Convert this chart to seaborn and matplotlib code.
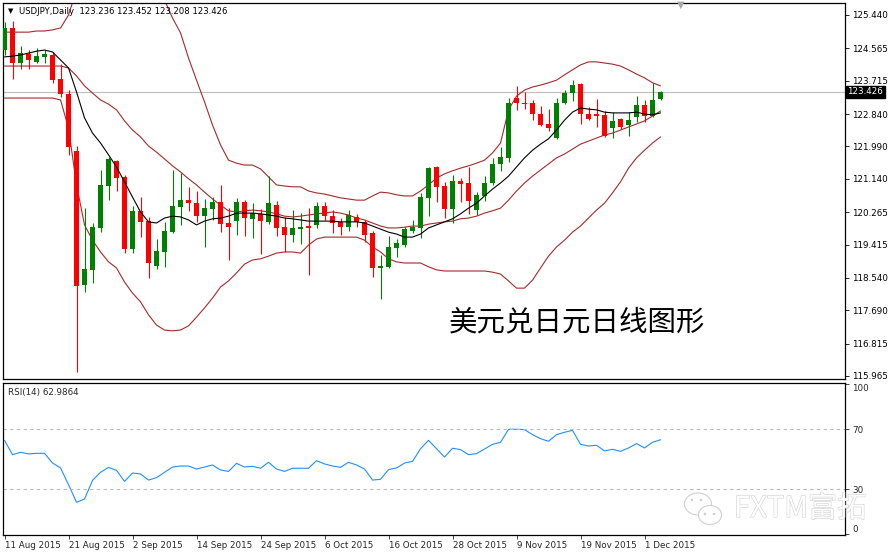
import numpy as np
import pandas as pd
import seaborn as sns
import matplotlib.pyplot as plt
import matplotlib.patheffects as pe
import matplotlib.transforms as mtransforms
from matplotlib.patches import Ellipse

# USDJPY daily bars, 11 Aug 2015 - 3 Dec 2015
dates = pd.bdate_range("2015-08-11", "2015-12-03")

opens = [124.52, 125.10, 124.18, 124.42, 124.21, 124.34, 124.39, 123.76, 123.37, 121.87,
         118.35, 118.75, 119.85, 120.95, 121.61, 121.19, 119.30, 120.30, 120.03, 118.85,
         119.22, 119.74, 120.40, 120.58, 120.50, 120.16, 120.35, 120.53, 119.98, 120.03,
         120.53, 120.08, 120.22, 120.01, 120.45, 119.87, 119.66, 119.82, 119.90, 119.93,
         120.43, 120.16, 120.01, 119.87, 120.14, 120.01, 119.72, 118.80, 118.83, 119.32,
         119.40, 119.77, 119.85, 120.64, 121.45, 120.95, 120.35, 121.08, 121.03, 120.32,
         120.69, 121.03, 121.53, 121.69, 123.26, 123.13, 123.13, 122.84, 122.58, 122.21,
         123.13, 123.39, 123.63, 122.84, 122.84, 122.82, 122.47, 122.71, 122.55, 122.76,
         123.08, 122.79, 123.236]
highs = [125.26, 125.28, 124.63, 124.52, 124.57, 124.52, 124.47, 124.15, 123.47, 122.00,
         120.37, 119.98, 121.37, 121.71, 121.63, 121.24, 120.43, 120.66, 120.14, 119.56,
         120.01, 121.37, 121.29, 120.93, 120.82, 120.61, 120.66, 120.98, 120.37, 120.64,
         120.58, 120.50, 120.35, 121.21, 120.56, 120.14, 120.32, 120.24, 120.37, 120.53,
         120.53, 120.32, 120.11, 120.32, 120.22, 120.06, 119.77, 119.14, 119.64, 119.56,
         119.87, 120.06, 120.77, 121.45, 121.48, 121.06, 121.24, 121.16, 121.45, 120.79,
         121.21, 121.69, 121.97, 123.26, 123.58, 123.42, 123.21, 123.05, 122.97, 123.26,
         123.47, 123.73, 123.66, 123.02, 123.24, 122.92, 122.89, 122.74, 122.89, 123.31,
         123.21, 123.66, 123.452]
lows = [124.39, 123.76, 124.02, 124.02, 124.18, 124.18, 123.66, 123.29, 121.77, 116.07,
        118.17, 118.41, 119.74, 120.58, 120.82, 119.19, 119.19, 119.61, 118.54, 118.77,
        118.83, 119.72, 119.93, 120.30, 120.01, 119.35, 120.06, 119.74, 119.01, 119.66,
        119.64, 119.59, 119.17, 119.95, 119.64, 119.22, 119.48, 119.43, 118.62, 119.85,
        120.06, 119.72, 119.66, 119.77, 119.87, 119.48, 118.56, 117.98, 118.80, 119.09,
        119.35, 119.72, 119.59, 120.16, 120.53, 120.11, 119.98, 120.53, 120.22, 120.19,
        120.56, 120.98, 121.35, 121.58, 122.95, 122.97, 122.68, 122.53, 122.40, 122.19,
        123.10, 123.18, 122.58, 122.68, 122.50, 122.24, 122.21, 122.45, 122.26, 122.63,
        122.63, 122.76, 123.208]
closes = [125.10, 124.18, 124.44, 124.26, 124.36, 124.42, 123.73, 123.37, 121.97, 118.33,
          118.77, 119.87, 120.98, 121.66, 121.16, 119.30, 120.30, 120.01, 118.93, 119.25,
          119.77, 120.43, 120.58, 120.50, 120.16, 120.37, 120.53, 119.95, 119.87, 120.53,
          120.11, 120.24, 120.03, 120.50, 119.85, 119.66, 119.85, 119.87, 119.85, 120.43,
          120.16, 119.98, 119.87, 120.19, 120.01, 119.66, 118.80, 118.85, 119.35, 119.46,
          119.82, 119.87, 120.66, 121.42, 120.93, 120.35, 121.08, 121.00, 120.56, 120.72,
          121.03, 121.53, 121.71, 123.13, 123.13, 123.10, 122.84, 122.55, 122.47, 123.13,
          123.39, 123.60, 122.84, 122.71, 122.79, 122.26, 122.66, 122.50, 122.68, 123.08,
          122.79, 123.21, 123.426]

# Bollinger bands (red) and fast moving average (black)
bb_upper = [124.99, 124.99, 124.99, 124.99, 125.02, 125.02, 125.05, 125.10, 125.44, 126.10,
            126.45, 126.75, 126.95, 127.05, 127.10, 127.10, 127.00, 126.85, 126.62, 126.30,
            125.83, 125.36, 124.97, 124.31, 123.73, 123.16, 122.55, 122.03, 121.63, 121.55,
            121.50, 121.50, 121.40, 121.19, 120.98, 120.95, 120.93, 120.93, 120.82, 120.77,
            120.74, 120.69, 120.64, 120.61, 120.58, 120.58, 120.69, 120.79, 120.77, 120.72,
            120.69, 120.69, 120.82, 120.98, 121.16, 121.27, 121.35, 121.42, 121.48, 121.55,
            121.63, 121.82, 122.08, 122.95, 123.31, 123.47, 123.55, 123.60, 123.66, 123.73,
            123.87, 124.00, 124.13, 124.21, 124.21, 124.18, 124.15, 124.10, 124.00, 123.89,
            123.79, 123.66, 123.58]
bb_mid = [124.10, 124.10, 124.10, 124.10, 124.10, 124.10, 124.10, 124.10, 124.05, 123.84,
          123.58, 123.39, 123.21, 123.10, 122.95, 122.66, 122.42, 122.24, 122.00, 121.84,
          121.66, 121.48, 121.32, 121.14, 120.98, 120.79, 120.61, 120.45, 120.30, 120.27,
          120.30, 120.32, 120.30, 120.27, 120.22, 120.16, 120.14, 120.16, 120.19, 120.22,
          120.24, 120.27, 120.24, 120.19, 120.11, 120.06, 119.98, 119.90, 119.85, 119.85,
          119.87, 119.90, 119.90, 119.95, 119.98, 120.01, 120.03, 120.09, 120.11, 120.16,
          120.24, 120.30, 120.37, 120.58, 120.82, 121.03, 121.21, 121.37, 121.53, 121.69,
          121.79, 121.92, 122.05, 122.13, 122.21, 122.29, 122.34, 122.42, 122.50, 122.58,
          122.66, 122.79, 122.92]
bb_lower = [123.26, 123.26, 123.26, 123.26, 123.26, 123.26, 123.26, 123.21, 122.47, 120.98,
            119.93, 119.53, 119.22, 118.96, 118.80, 118.43, 118.14, 117.91, 117.57, 117.30,
            117.17, 117.15, 117.17, 117.28, 117.51, 117.75, 118.01, 118.30, 118.46, 118.67,
            118.90, 119.01, 119.04, 119.11, 119.19, 119.22, 119.22, 119.19, 119.40, 119.56,
            119.61, 119.61, 119.61, 119.61, 119.61, 119.53, 119.35, 119.22, 119.04, 118.96,
            118.93, 118.93, 118.93, 118.83, 118.75, 118.72, 118.72, 118.72, 118.72, 118.72,
            118.72, 118.69, 118.64, 118.46, 118.27, 118.27, 118.48, 118.80, 119.11, 119.35,
            119.53, 119.74, 119.90, 120.11, 120.32, 120.50, 120.77, 121.06, 121.42, 121.69,
            121.89, 122.08, 122.24]
ma_fast = [124.34, 124.36, 124.39, 124.44, 124.49, 124.52, 124.47, 124.26, 124.05, 123.42,
           122.74, 122.34, 122.08, 121.77, 121.45, 121.06, 120.66, 120.27, 120.01, 119.98,
           120.11, 120.16, 120.14, 120.06, 119.93, 120.03, 120.09, 120.11, 120.16, 120.24,
           120.24, 120.24, 120.22, 120.19, 120.16, 120.11, 120.09, 120.06, 120.03, 120.03,
           120.03, 120.03, 120.01, 120.01, 120.01, 119.98, 119.90, 119.82, 119.74, 119.69,
           119.61, 119.61, 119.69, 119.85, 119.93, 120.01, 120.09, 120.22, 120.37, 120.50,
           120.69, 120.87, 121.03, 121.21, 121.45, 121.69, 121.89, 122.05, 122.19, 122.42,
           122.68, 122.89, 123.00, 122.97, 122.95, 122.89, 122.87, 122.87, 122.87, 122.89,
           122.84, 122.82, 122.87]

rsi = [62.6, 53.0, 54.6, 53.5, 53.9, 53.9, 47.4, 44.1, 32.9, 21.1,
       23.3, 35.8, 41.2, 44.5, 42.5, 35.1, 40.7, 40.1, 36.0, 37.6,
       41.2, 44.7, 45.4, 45.4, 43.4, 44.7, 46.1, 42.7, 41.8, 47.2,
       44.7, 45.2, 43.9, 47.9, 43.4, 41.8, 43.9, 43.9, 43.9, 49.0,
       46.8, 45.4, 44.5, 47.9, 46.1, 43.4, 36.0, 36.5, 43.0, 44.1,
       47.4, 48.5, 57.0, 62.6, 57.0, 51.4, 57.3, 56.4, 53.0, 53.7,
       56.8, 59.9, 61.3, 70.0, 70.0, 69.8, 66.4, 63.7, 62.0, 66.4,
       68.0, 69.3, 59.9, 58.8, 59.3, 55.5, 56.6, 55.2, 57.5, 60.4,
       57.5, 61.3, 62.99]

price_ticks = [125.440, 124.565, 123.715, 122.840, 121.990, 121.140,
               120.265, 119.415, 118.540, 117.690, 116.815, 115.965]
rsi_ticks = [0, 30, 70, 100]
last_price = 123.426

df = pd.DataFrame({"bar": np.arange(len(dates)), "open": opens, "high": highs,
                   "low": lows, "close": closes, "upper": bb_upper, "mid": bb_mid,
                   "lower": bb_lower, "ma": ma_fast, "rsi": rsi})

sns.set_theme(style="white")
plt.rcParams["font.family"] = ["DejaVu Sans"]

fig = plt.figure(figsize=(8.9, 5.54), dpi=100)
ax = fig.add_axes([3 / 890, 1 - 379 / 554, 842 / 890, 376 / 554])
ax_rsi = fig.add_axes([3 / 890, 1 - 535 / 554, 842 / 890, 152 / 554])

# candles
up = df["close"] >= df["open"]
colors = np.where(up, "#008000", "#ff0000")
ax.vlines(df["bar"], df["low"], df["high"], colors=colors, lw=0.8, zorder=3)
body = np.maximum((df["close"] - df["open"]).abs(), 0.02)
ax.bar(df["bar"], body, bottom=np.minimum(df["open"], df["close"]),
       width=0.62, color=colors, lw=0, zorder=4)

# bands and moving average
for col in ["upper", "mid", "lower"]:
    sns.lineplot(data=df, x="bar", y=col, ax=ax, color="#a52a2a", lw=0.8,
                 estimator=None, zorder=2)
sns.lineplot(data=df, x="bar", y="ma", ax=ax, color="black", lw=0.8,
             estimator=None, zorder=5)

ax.axhline(last_price, color="#c0c0c0", lw=0.9, zorder=1)

xlim = (-0.19, 105.06)
ax.set_xlim(*xlim)
ax.set_ylim(115.885, 125.755)
ax.set_xlabel("")
ax.set_ylabel("")
ax.set_xticks([])
ax.yaxis.tick_right()
ax.set_yticks(price_ticks)
ax.set_yticklabels([f"{t:.3f}" for t in price_ticks])
ax.tick_params(axis="y", direction="out", length=3, width=0.6, pad=2,
               labelsize=6.3, right=True, colors="black")

trans = mtransforms.blended_transform_factory(ax.transAxes, ax.transData)
ax.text(1.003, last_price, f"{last_price:.3f}", transform=trans, fontsize=6.3,
        color="white", va="center", ha="left", clip_on=False, zorder=10,
        bbox=dict(boxstyle="square,pad=0.15", fc="black", ec="black"))

# RSI panel
sns.lineplot(data=df, x="bar", y="rsi", ax=ax_rsi, color="#1e90ff", lw=0.8,
             estimator=None)
for lvl in [30, 70]:
    ax_rsi.axhline(lvl, color="#b8b8b8", lw=0.8, ls=(0, (3, 3)))
ax_rsi.set_xlim(*xlim)
ax_rsi.set_ylim(-0.8, 101)
ax_rsi.set_xlabel("")
ax_rsi.set_ylabel("")
ax_rsi.yaxis.tick_right()
ax_rsi.set_yticks(rsi_ticks)
ylabs = ax_rsi.set_yticklabels([str(t) for t in rsi_ticks])
ylabs[0].set_va("bottom")
ylabs[-1].set_va("top")
ax_rsi.tick_params(axis="y", direction="out", length=3, width=0.6, pad=2,
                   labelsize=6.3, right=True)

tick_bars = list(range(0, len(dates), 8))
ax_rsi.set_xticks(tick_bars)
ax_rsi.set_xticklabels([f"{dates[i].day} {dates[i]:%b %Y}" for i in tick_bars],
                       ha="left")
ax_rsi.tick_params(axis="x", direction="out", length=3, width=0.6, pad=1,
                   labelsize=6.3, bottom=True)

for a in (ax, ax_rsi):
    for s in a.spines.values():
        s.set_color("black")
        s.set_linewidth(0.9)

# overlay for labels in pixel coordinates
ov = fig.add_axes([0, 0, 1, 1], zorder=20)
ov.set_xlim(0, 890)
ov.set_ylim(554, 0)
ov.axis("off")
ov.patch.set_alpha(0)

ov.text(10.5, 11, "▼", fontsize=5, ha="center", va="center", color="black")
ov.text(19, 11, "USDJPY,Daily  123.236 123.452 123.208 123.426", fontsize=6.1,
        ha="left", va="center", color="black")
ov.text(681, 4.5, "▼", fontsize=7, ha="center", va="center", color="#a8a8a8")
ov.text(8, 392, "RSI(14) 62.9864", fontsize=6.3, ha="left", va="center")

ov.text(449, 322, "美元兑日元日线图形", fontsize=20.5, ha="left", va="center",
        family=["Noto Sans CJK SC", "DejaVu Sans"], color="black", fontweight="light")

# FXTM watermark
wm_edge = "#cfcfcf"
ov.add_patch(Ellipse((698, 504), 27, 22, fc="white", ec=wm_edge, lw=0.8))
ov.add_patch(Ellipse((710, 515), 23, 19, fc="white", ec=wm_edge, lw=0.8))
for cx, cy in [(692, 500), (701, 500), (705, 514), (714, 514)]:
    ov.add_patch(Ellipse((cx, cy), 2.5, 2.5, fc=wm_edge, ec="none"))
ov.text(734, 509, "FXTM富拓", fontsize=21, ha="left", va="center", color="white",
        family=["Noto Sans CJK SC", "DejaVu Sans"], fontweight="light",
        path_effects=[pe.withStroke(linewidth=0.8, foreground=wm_edge)])

fig.savefig("out.png", dpi=100, facecolor="white")
